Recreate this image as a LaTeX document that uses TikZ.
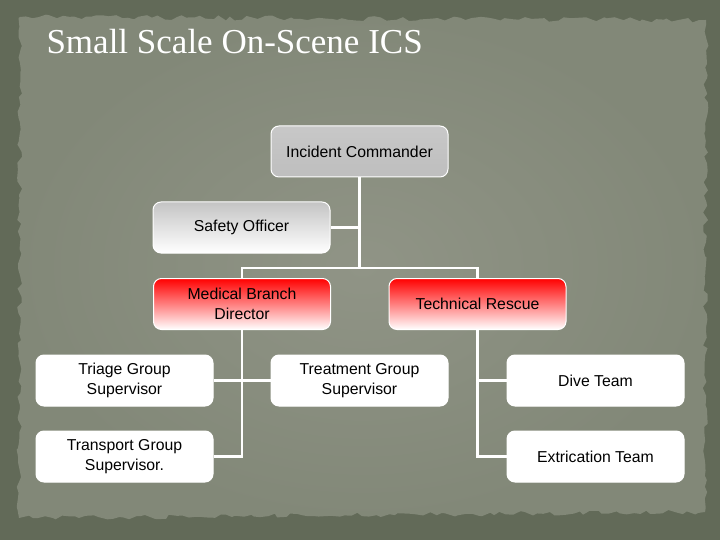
\documentclass[tikz,border=0pt]{standalone}
\usepackage{fontspec}
\setmainfont{Liberation Sans}
\newfontfamily\titlefont{Liberation Serif}
\definecolor{frameGreen}{RGB}{98, 106, 88}
\definecolor{paperLight}{RGB}{144, 148, 134}
\definecolor{paperDark}{RGB}{130, 136, 120}
\definecolor{cmdGray}{RGB}{190, 190, 190}
\definecolor{safeGray}{RGB}{196, 196, 196}
\usetikzlibrary{positioning, calc, shadings, decorations.pathmorphing}

\begin{document}
\begin{tikzpicture}[x=1pt, y=-1pt,
    box/.style={draw=white, line width=1pt, rounded corners=8pt,
        minimum width=177pt, minimum height=51pt, align=center,
        inner sep=2pt, font=\fontsize{15.8}{19.5}\selectfont},
    cmdbox/.style={box, top color=cmdGray!85!white, bottom color=cmdGray},
    safebox/.style={box, top color=safeGray, bottom color=white},
    branchbox/.style={box, top color=red, middle color=red!30!white, bottom color=white},
    unitbox/.style={box, fill=white},
    link/.style={draw=white, line width=2.6pt}]
    \useasboundingbox (0,0) rectangle (720,540);
    \pgfmathsetseed{7}

    % torn paper background
    \fill[frameGreen] (0,0) rectangle (720,540);
    \shade[inner color=paperLight, outer color=paperDark,
        decorate, decoration={random steps, segment length=6pt, amplitude=2.5pt}]
        (20,17) -- (706,20) -- (705,512) -- (19,518) -- cycle;

    \node[anchor=base west, white, font=\titlefont\fontsize{35}{40}\selectfont]
        (title) at (43,54) {Small Scale On-Scene ICS};

    % boxes
    \node[cmdbox] (ic) at (359.5,151.5) {Incident Commander};
    \node[safebox] (safety) at (241.5,227.5) {Safety Officer};
    \node[branchbox] (med) at (242,304) {Medical Branch\\Director};
    \node[branchbox] (tech) at (477.5,304) {Technical Rescue};
    \node[unitbox] (triage) at (124.5,380.5) {Triage Group\\Supervisor};
    \node[unitbox] (treat) at (359.5,380.5) {Treatment Group\\Supervisor};
    \node[unitbox] (dive) at (595.5,380.5) {Dive Team};
    \node[unitbox] (transport) at (124.5,456.5) {Transport Group\\Supervisor.};
    \node[unitbox] (extr) at (595.5,456.5) {Extrication Team};

    % connectors
    \coordinate (hbar) at (0,268);
    \draw[link] (ic.south) -- (ic.south |- hbar);
    \draw[link] (med.north) -- (med.north |- hbar) -| (tech.north);
    \draw[link] (safety.east) -- (safety.east -| ic.south);
    \draw[link] (med.south) -- (med.south |- transport.east) -- (transport.east);
    \draw[link] (triage.east) -- (treat.west);
    \draw[link] (tech.south) -- (tech.south |- extr.west) -- (extr.west);
    \draw[link] (dive.west) -- (dive.west -| tech.south);
\end{tikzpicture}
\end{document}
